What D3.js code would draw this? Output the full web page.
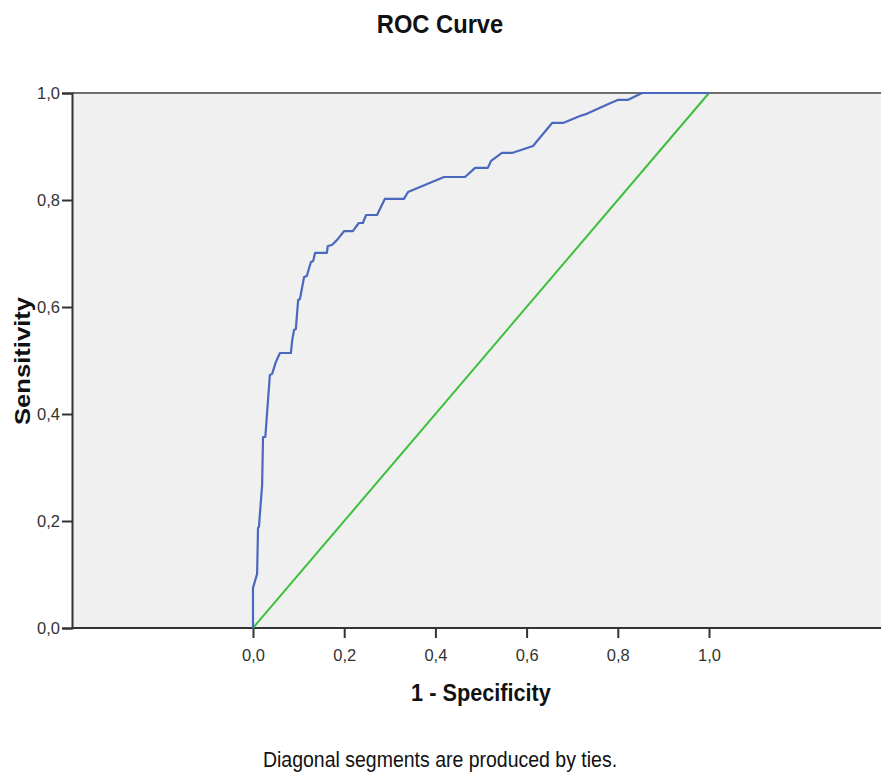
<!DOCTYPE html>
<html>
<head>
<meta charset="utf-8">
<script src="https://cdn.jsdelivr.net/npm/d3@7"></script>
<style>
  body { margin: 0; background: #fff; }
  svg { display: block; }
</style>
</head>
<body>
<script>
// ROC curve points
const fpr = [0, 0, 0.009, 0.011, 0.013, 0.020, 0.022, 0.027, 0.037, 0.042, 0.050, 0.059, 0.083, 0.086,
  0.090, 0.094, 0.099, 0.103, 0.112, 0.118, 0.127, 0.132, 0.136, 0.162, 0.164, 0.173, 0.184, 0.200,
  0.219, 0.232, 0.241, 0.248, 0.272, 0.289, 0.331, 0.340, 0.382, 0.419, 0.465, 0.487, 0.515, 0.522,
  0.546, 0.568, 0.614, 0.656, 0.680, 0.717, 0.732, 0.783, 0.800, 0.822, 0.853, 1.0];
const tpr = [0, 0.075, 0.101, 0.187, 0.189, 0.267, 0.357, 0.357, 0.473, 0.475, 0.497, 0.514, 0.514, 0.538,
  0.557, 0.559, 0.613, 0.615, 0.656, 0.658, 0.684, 0.686, 0.701, 0.701, 0.714, 0.716, 0.725, 0.742,
  0.742, 0.757, 0.757, 0.772, 0.772, 0.802, 0.802, 0.815, 0.830, 0.843, 0.843, 0.860, 0.860, 0.873,
  0.888, 0.888, 0.901, 0.944, 0.944, 0.957, 0.961, 0.981, 0.987, 0.987, 1.0, 1.0];
const refLine = [0, 1];
const ticks = [0, 0.2, 0.4, 0.6, 0.8, 1.0];

const W = 881, H = 772;
const boxL = 72, boxR = 881, boxT = 93, boxB = 628;
const font = "Liberation Sans, Arial, sans-serif";

const svg = d3.select("body").append("svg")
  .attr("width", W)
  .attr("height", H);

// x 0..1 spans 253..709, box runs wider on both sides
const x = d3.scaleLinear().domain([0, 1]).range([253, 709]);
const y = d3.scaleLinear().domain([0, 1]).range([boxB, boxT]);

svg.append("rect")
  .attr("x", boxL).attr("y", boxT)
  .attr("width", boxR - boxL).attr("height", boxB - boxT)
  .attr("fill", "#f0f0f0");

svg.append("line")
  .attr("x1", boxL).attr("x2", boxR)
  .attr("y1", boxT).attr("y2", boxT)
  .attr("stroke", "#6e6e6e").attr("stroke-width", 2);

const fmt = d => d3.format(".1f")(d).replace(".", ",");

const yAxis = svg.append("g")
  .attr("transform", `translate(${boxL},0)`)
  .call(d3.axisLeft(y).tickValues(ticks).tickFormat(fmt).tickSize(10).tickPadding(2));

const xAxis = svg.append("g")
  .attr("transform", `translate(0,${boxB})`)
  .call(d3.axisBottom(x).tickValues(ticks).tickFormat(fmt).tickSize(10).tickPadding(11));

xAxis.select(".domain").remove();
svg.append("line")
  .attr("x1", boxL).attr("x2", boxR)
  .attr("y1", boxB).attr("y2", boxB)
  .attr("stroke", "#333").attr("stroke-width", 2);

[xAxis, yAxis].forEach(g => {
  g.selectAll(".domain").attr("stroke", "#333").attr("stroke-width", 2);
  g.selectAll(".tick line").attr("stroke", "#333").attr("stroke-width", 2);
  g.selectAll(".tick text")
    .attr("font-family", font)
    .attr("font-size", "16.5px")
    .attr("fill", "#333");
});

// diagonal reference
svg.append("line")
  .attr("x1", x(refLine[0])).attr("y1", y(refLine[0]))
  .attr("x2", x(refLine[1])).attr("y2", y(refLine[1]))
  .attr("stroke", "#3cbf3c").attr("stroke-width", 2);

const line = d3.line().x(d => x(d[0])).y(d => y(d[1]));
svg.append("path")
  .datum(fpr.map((f, i) => [f, tpr[i]]))
  .attr("d", line)
  .attr("fill", "none")
  .attr("stroke", "#4a68be")
  .attr("stroke-width", 2.2)
  .attr("stroke-linejoin", "round");

// the source text looks a bit stretched vertically
function label(tx, ty, rot, sx, sy, size, weight, txt) {
  svg.append("g")
    .attr("transform", `translate(${tx},${ty}) rotate(${rot})`)
    .append("text")
    .attr("transform", `scale(${sx},${sy})`)
    .attr("text-anchor", "middle")
    .attr("font-family", font)
    .attr("font-weight", weight)
    .attr("font-size", size + "px")
    .attr("fill", "#111")
    .text(txt);
}

label(440, 33, 0, 1, 1.12, 23.7, "bold", "ROC Curve");
label(481, 701, 0, 1, 1.12, 21.7, "bold", "1 - Specificity");
label(30, 361, -90, 1.18, 1, 21.7, "bold", "Sensitivity");
label(440, 767, 0, 1, 1.12, 19.5, "normal", "Diagonal segments are produced by ties.");
</script>
</body>
</html>
